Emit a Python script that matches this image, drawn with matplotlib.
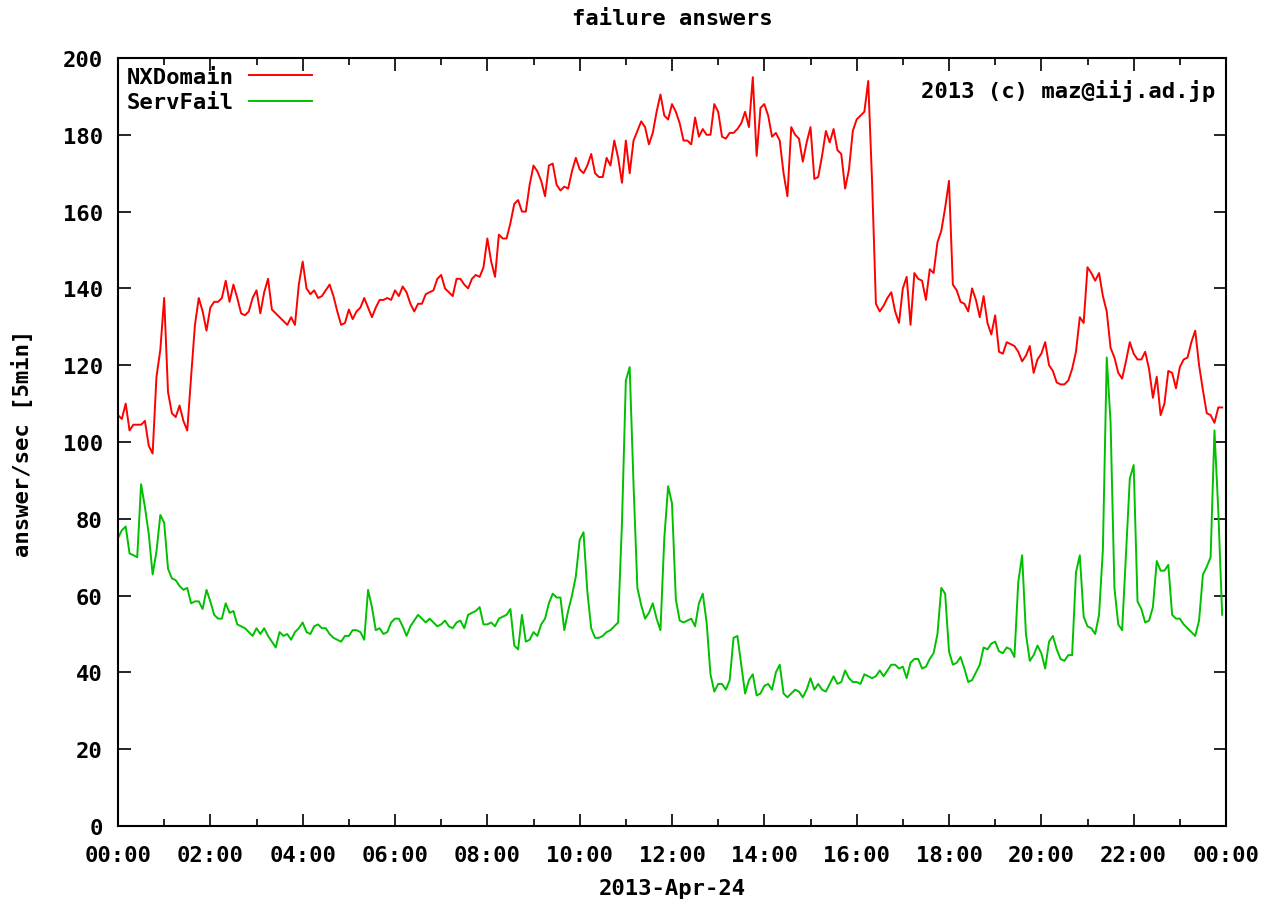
import numpy as np
import matplotlib.pyplot as plt
from matplotlib.ticker import MultipleLocator

# answers/sec, one value per 5 minutes (2013-04-24)
nxdomain = [
    107, 106, 110, 103, 104.5, 104.5, 104.5, 105.5, 99, 97, 117, 124,
    137.5, 113, 107.5, 106.5, 109.5, 105.5, 103, 117, 130.5, 137.5, 134, 129,
    135, 136.5, 136.5, 137.5, 142, 136.5, 141, 137.5, 133.5, 133, 134, 137.5,
    139.5, 133.5, 139, 142.5, 134.5, 133.5, 132.5, 131.5, 130.5, 132.5, 130.5, 141,
    147, 140, 138.5, 139.5, 137.5, 138, 139.5, 141, 138, 134, 130.5, 131,
    134.5, 132, 134, 135, 137.5, 135, 132.5, 135, 137, 137, 137.5, 137,
    139.5, 138, 140.5, 139, 136, 134, 136, 136, 138.5, 139, 139.5, 142.5,
    143.5, 140, 139, 138, 142.5, 142.5, 141, 140, 142.5, 143.5, 143, 145.5,
    153, 147, 143, 154, 153, 153, 157, 162, 163, 160, 160, 167,
    172, 170.5, 168, 164, 172, 172.5, 167, 165.5, 166.5, 166, 170.5, 174,
    171, 170, 172, 175, 170, 169, 169, 174, 172, 178.5, 174, 167.5,
    178.5, 170, 178.5, 181, 183.5, 182, 177.5, 180.5, 186, 190.5, 185, 184,
    188, 186, 183, 178.5, 178.5, 177.5, 184.5, 179.5, 181.5, 180, 180, 188,
    186, 179.5, 179, 180.5, 180.5, 181.5, 183, 186, 182, 195, 174.5, 187,
    188, 185, 179.5, 180.5, 178.5, 170, 164, 182, 180, 179, 173, 178,
    182, 168.5, 169, 174.5, 181, 178, 181.5, 176, 175, 166, 171, 181,
    184, 185, 186, 194, 168, 136, 134, 135.5, 137.5, 139, 134, 131,
    140, 143, 130.5, 144, 142.5, 142, 137, 145, 144, 152, 155, 161,
    168, 141, 139.5, 136.5, 136, 134, 140, 137, 132.5, 138, 131, 128,
    133, 123.5, 123, 126, 125.5, 125, 123.5, 121, 122.5, 125, 118, 121.5,
    123, 126, 120, 118.5, 115.5, 115, 115, 116, 119, 123.5, 132.5, 131,
    145.5, 144, 142, 144, 138, 134, 124.5, 122, 118, 116.5, 121, 126,
    123, 121.5, 121.5, 123.5, 119, 111.5, 117, 107, 110, 118.5, 118, 114,
    119.5, 121.5, 122, 126, 129, 120, 113.5, 107.5, 107, 105, 109, 109,
]

servfail = [
    75, 77, 78, 71, 70.5, 70, 89, 83, 76, 65.5, 71.5, 81,
    79, 67, 64.5, 64, 62.5, 61.5, 62, 58, 58.5, 58.5, 56.5, 61.5,
    58.5, 55, 54, 54, 58, 55.5, 56, 52.5, 52, 51.5, 50.5, 49.5,
    51.5, 50, 51.5, 49.5, 48, 46.5, 50.5, 49.5, 50, 48.5, 50.5, 51.5,
    53, 50.5, 50, 52, 52.5, 51.5, 51.5, 50, 49, 48.5, 48, 49.5,
    49.5, 51, 51, 50.5, 48.5, 61.5, 57, 51, 51.5, 50, 50.5, 53,
    54, 54, 52, 49.5, 52, 53.5, 55, 54, 53, 54, 53, 52,
    52.5, 53.5, 52, 51.5, 53, 53.5, 51.5, 55, 55.5, 56, 57, 52.5,
    52.5, 53, 52, 54, 54.5, 55, 56.5, 47, 46, 55, 48, 48.5,
    50.5, 49.5, 52.5, 54, 58, 60.5, 59.5, 59.5, 51, 56, 60, 65,
    74.5, 76.5, 61, 51.5, 49, 49, 49.5, 50.5, 51, 52, 53, 79,
    116, 119.5, 89, 62, 57.5, 54, 55.5, 58, 54, 51, 75, 88.5,
    84, 59, 53.5, 53, 53.5, 54, 52, 58, 60.5, 53, 39.5, 35,
    37, 37, 35.5, 38, 49, 49.5, 42, 34.5, 38, 39.5, 34, 34.5,
    36.5, 37, 35.5, 40, 42, 34.5, 33.5, 34.5, 35.5, 35, 33.5, 35.5,
    38.5, 35.5, 37, 35.5, 35, 37, 39, 37, 37.5, 40.5, 38.5, 37.5,
    37.5, 37, 39.5, 39, 38.5, 39, 40.5, 39, 40.5, 42, 42, 41,
    41.5, 38.5, 42.5, 43.5, 43.5, 41, 41.5, 43.5, 45, 50, 62, 60.5,
    45.5, 42, 42.5, 44, 41, 37.5, 38, 40, 42, 46.5, 46, 47.5,
    48, 45.5, 45, 46.5, 46, 44, 63.5, 70.5, 50, 43, 44.5, 47,
    45, 41, 48, 49.5, 46, 43.5, 43, 44.5, 44.5, 66, 70.5, 54.5,
    52, 51.5, 50, 55, 72, 122, 105, 62, 52.5, 51, 71, 90.5,
    94, 58.5, 56.5, 53, 53.5, 57, 69, 66.5, 66.5, 68, 55, 54,
    54, 52.5, 51.5, 50.5, 49.5, 53.5, 65.5, 67.5, 70, 103, 82, 55,
]

hour_ticks = list(range(0, 25, 2))
hour_labels = ['%02d:00' % (h % 24) for h in hour_ticks]


def plot_failure_answers():
    plt.rcParams['font.family'] = 'DejaVu Sans Mono'
    plt.rcParams['font.weight'] = 'bold'
    fs = 16

    fig = plt.figure(figsize=(12.65, 9.04), dpi=100)
    ax = fig.add_axes([118 / 1265, 77 / 904, 1108 / 1265, 768 / 904])

    hours = np.arange(len(nxdomain)) * 5 / 60
    ax.plot(hours, nxdomain, color='#ff0000', lw=1.4, label='NXDomain')
    ax.plot(hours, servfail, color='#00c000', lw=1.4, label='ServFail')

    ax.set_xlim(0, 24)
    ax.set_ylim(0, 200)
    ax.set_xticks(hour_ticks)
    ax.set_xticklabels(hour_labels)
    ax.xaxis.set_minor_locator(MultipleLocator(1))
    ax.yaxis.set_major_locator(MultipleLocator(20))

    ax.tick_params(which='both', direction='in', top=True, right=True,
                   width=1.2, labelsize=fs)
    ax.tick_params(which='major', length=9)
    ax.tick_params(which='minor', length=5)
    ax.tick_params(axis='x', pad=14)
    ax.tick_params(axis='y', pad=11)
    for s in ax.spines.values():
        s.set_linewidth(1.5)

    # gnuplot style key: text first, sample line after
    ax.legend(loc='upper left', markerfirst=False, frameon=False,
              handlelength=2.8, fontsize=fs, borderaxespad=0.1, borderpad=0.3,
              labelspacing=0.25, handletextpad=0.7)

    ax.text(0.99, 0.958, '2013 (c) maz@iij.ad.jp', transform=ax.transAxes,
            ha='right', va='center', fontsize=fs)

    fig.text(672 / 1265, 1 - 19 / 904, 'failure answers',
             ha='center', va='center', fontsize=fs)
    fig.text(672 / 1265, 1 - 889 / 904, '2013-Apr-24',
             ha='center', va='center', fontsize=fs)
    fig.text(22 / 1265, 1 - 443 / 904, 'answer/sec [5min]',
             ha='center', va='center', rotation=90, fontsize=fs)

    fig.savefig('out.png', dpi=100)


if __name__ == "__main__":
    plot_failure_answers()
